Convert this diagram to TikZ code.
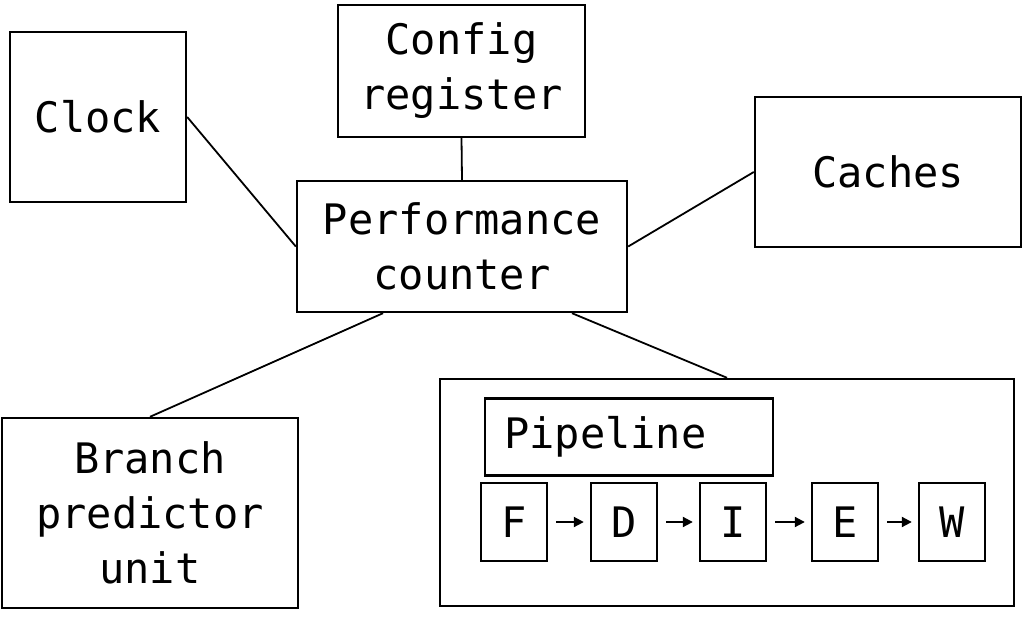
\documentclass[tikz,border=0pt]{standalone}
\usepackage{fontspec}
\setmonofont{DejaVu Sans Mono}
\usetikzlibrary{arrows.meta}
\begin{document}
\begin{tikzpicture}[x=1pt,y=-1pt,
  box/.style={draw, line width=2.4pt, rectangle, inner sep=0pt,
    font=\ttfamily\fontsize{42}{55}\selectfont, align=center},
  stage/.style={box, minimum width=66pt, minimum height=78pt},
  link/.style={line width=1.8pt},
  flow/.style={line width=2pt, -{Triangle[length=10pt,width=10pt]}, shorten <=8pt, shorten >=6pt}]
\useasboundingbox (0,0) rectangle (1024,628);
\node[box, minimum width=176pt, minimum height=170pt] (clock) at (98,117) {Clock};
\node[box, minimum width=247pt, minimum height=132pt] (cfg) at (461.5,71) {Config\\register};
\node[box, minimum width=330pt, minimum height=131pt] (pc) at (462,246.5) {Performance\\counter};
\node[box, minimum width=266pt, minimum height=150pt] (cache) at (888,172) {Caches};
\node[box, minimum width=296pt, minimum height=190pt] (bpu) at (150,513) {Branch\\predictor\\unit};
\node[box, minimum width=574pt, minimum height=227pt] (pipe) at (727,492.5) {};
\node[box, minimum height=77pt, text width=250pt, inner xsep=19pt, align=left, anchor=west] (plabel) at (484,437) {Pipeline};
\node[stage] (F) at (514,522) {F};
\node[stage] (D) at (624,522) {D};
\node[stage] (I) at (733,522) {I};
\node[stage] (E) at (845,522) {E};
\node[stage] (W) at (952,522) {W};
\draw[link] (clock.east) -- (pc.west);
\draw[link] (cfg.south) -- (pc.north);
\draw[link] (pc.east) -- (cache.west);
\draw[link] ([xshift=-79pt]pc.south) -- (bpu.north);
\draw[link] ([xshift=110pt]pc.south) -- (pipe.north);
\draw[flow] (F) -- (D);
\draw[flow] (D) -- (I);
\draw[flow] (I) -- (E);
\draw[flow] (E) -- (W);
\end{tikzpicture}
\end{document}
